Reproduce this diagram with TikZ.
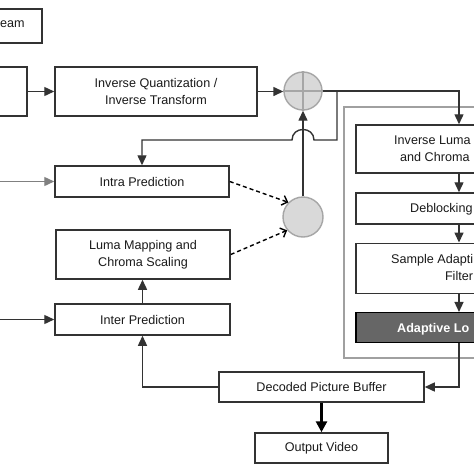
\documentclass[tikz,border=0pt]{standalone}
\usepackage{fontspec}
\setmainfont{Liberation Sans}
\usetikzlibrary{arrows.meta}
\definecolor{bord}{HTML}{333333}
\definecolor{txt}{HTML}{1A1A1A}
\definecolor{circfill}{HTML}{D9D9D9}
\definecolor{circline}{HTML}{A6A6A6}
\definecolor{framec}{HTML}{A0A0A0}
\definecolor{alfc}{HTML}{666666}
\begin{document}
\begin{tikzpicture}[x=1pt,y=-1pt,
  every node/.style={font=\fontsize{12.6}{16.5}\selectfont, text=txt},
  box/.style={draw=bord, line width=1.5pt, fill=white, inner sep=0pt, align=center},
  adder/.style={circle, draw=circline, fill=circfill, line width=1.4pt, inner sep=0pt},
  lbl/.style={inner sep=0pt},
  arr/.style={-{Triangle[length=10pt,width=9pt]}, draw=bord, line width=1.4pt},
  dasharr/.style={-{Straight Barb[length=5pt,width=10pt]}, draw=black, line width=1.4pt, dash pattern=on 4pt off 3pt},
  thickarr/.style={-{Triangle[length=11pt,width=11pt]}, draw=black, line width=3.5pt}]
\path[use as bounding box, clip] (0,0) rectangle (474,474);
\fill[white] (0,0) rectangle (474,474);
% frame of the loop filter group
\node[draw=framec, line width=1.6pt, minimum width=256pt, minimum height=251pt, inner sep=0pt] (frame) at (472,232.5) {};
% left column
\node[box, minimum width=92pt, minimum height=34pt] (bits) at (-4.2,26) {};
\node[lbl, anchor=base west] (bitst) at (0,27.5) {eam};
\node[box, minimum width=127pt, minimum height=49pt] (ent) at (-36.5,91.5) {};
\node[box, minimum width=202pt, minimum height=49pt] (iq) at (156,91.5) {Inverse Quantization /\\Inverse Transform};
\node[adder, minimum size=38pt] (add) at (303,91) {};
\draw[circline, line width=1.2pt] (add.north) -- (add.south) (add.west) -- (add.east);
\node[box, minimum width=174pt, minimum height=31pt] (intra) at (142,181.5) {Intra Prediction};
\node[box, minimum width=174pt, minimum height=49pt] (lmcs) at (143,254.5) {Luma Mapping and\\Chroma Scaling};
\node[box, minimum width=175pt, minimum height=31pt] (inter) at (142.5,319.5) {Inter Prediction};
\node[adder, minimum size=40pt] (mix) at (303,217) {};
% right column
\node[box, minimum width=206pt, minimum height=48pt] (ilmcs) at (459,149) {};
\node[lbl, anchor=base west] (ilmcst1) at (394,144.5) {Inverse Luma};
\node[lbl, anchor=base west] (ilmcst2) at (400,161.5) {and Chroma};
\node[box, minimum width=206pt, minimum height=31pt] (dbk) at (459,208.5) {};
\node[lbl, anchor=base west] (dbkt) at (410,212.5) {Deblocking};
\node[box, minimum width=206pt, minimum height=50pt] (sao) at (459,268.3) {};
\node[lbl, anchor=base west] (saot1) at (391,263.5) {Sample Adapti};
\node[lbl, anchor=base] (saot2) at (459,280.5) {Filter};
\node[box, fill=alfc, draw=black, minimum width=206pt, minimum height=30pt] (alf) at (459,327.7) {};
\node[lbl, anchor=base west, text=white, font=\fontsize{12.6}{16.5}\selectfont\bfseries] (alft) at (397,332.5) {Adaptive Lo};
% bottom
\node[box, minimum width=205pt, minimum height=30pt] (dpb) at (321.5,387) {Decoded Picture Buffer};
\node[box, minimum width=133pt, minimum height=30pt] (out) at (321.5,448) {Output Video};
% connectors
\coordinate (inA) at (0,181.5);
\coordinate (inB) at (0,319.5);
\coordinate (br) at (337,91);
\coordinate (hopR) at (314,140);
\coordinate (hopL) at (292,140);
\draw[arr] (ent.east) -- (iq.west);
\draw[arr] (iq.east) -- (iq.east -| add.west);
\draw[arr] (add.east) -| (ilmcs.north);
\draw[arr] (br) |- (hopR) .. controls +(0,-14) and +(0,-14) .. (hopL) -| (intra.north);
\draw[arr] (mix.north) -- (add.south);
\draw[dasharr] (intra.east) -- (mix.135);
\draw[dasharr] (lmcs.east) -- (mix.220);
\draw[arr, draw=gray] (inA) -- (intra.west);
\draw[arr] (inB) -- (inter.west);
\draw[arr] (inter.north) -- (inter.north |- lmcs.south);
\draw[arr] (dpb.west) -| (inter.south);
\draw[arr] (ilmcs.south) -- (dbk.north);
\draw[arr] (dbk.south) -- (sao.north);
\draw[arr] (sao.south) -- (alf.north);
\draw[arr] (alf.south) |- (dpb.east);
\draw[thickarr] (dpb.south) -- (out.north);
\end{tikzpicture}
\end{document}
